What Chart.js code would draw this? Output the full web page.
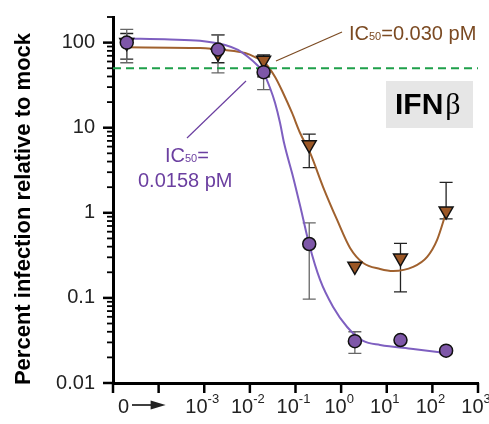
<!DOCTYPE html>
<html>
<head>
<meta charset="utf-8">
<script src="https://cdn.jsdelivr.net/npm/chart.js@4.4.1/dist/chart.umd.min.js"></script>
<style>
  html, body { margin: 0; padding: 0; background: #fff; }
  #wrap { width: 489px; height: 424px; }
</style>
</head>
<body>
<div id="wrap"><canvas id="chart" width="489" height="424"></canvas></div>
<script>
// Dose (pM). The mock ("0") dose is parked at 2e-5 on the log axis.
const doses = [0.00002, 0.002, 0.02, 0.2, 2, 20, 200];

// purple series (circles)
const purpleMean = [100, 83, 45, 0.43, 0.031, 0.032, 0.024];
const purpleLow  = [58, 44, 28, 0.097, 0.0223, null, null];
const purpleHigh = [143, 123, 66, 0.76, 0.040, null, null];

// brown series (down triangles)
const brownMean = [100, 75, 62, 6.3, 0.235, 0.294, 1.05];
const brownLow  = [64, 58, 39.5, 3.4, null, 0.118, 0.85];
const brownHigh = [128, 123, 71.5, 8.4, null, 0.438, 2.28];

// fitted curves
const purpleCurveX = [0.0000193, 0.000178, 0.00081, 0.00286, 0.0055, 0.00913, 0.0144, 0.0195, 0.0277, 0.0357, 0.0459, 0.0562, 0.0885, 0.1327, 0.1986, 0.346, 0.668, 1.355, 3.04, 7.16, 37.9, 201];
const purpleCurveY = [111.7, 109, 105, 93.7, 81.9, 67.7, 54.6, 45.2, 29.3, 19.5, 11.35, 6.6, 2.64, 1.08, 0.43, 0.1625, 0.0782, 0.0455, 0.0312, 0.028, 0.0251, 0.0225];
const brownCurveX = [0.0000193, 0.00081, 0.00286, 0.00785, 0.013, 0.0215, 0.0357, 0.0535, 0.0841, 0.126, 0.209, 0.403, 0.817, 1.57, 3.04, 7.16, 13.8, 37.9, 76.9, 127, 201];
const brownCurveY = [88.1, 86.4, 81.9, 75.5, 67.7, 57.6, 39.4, 25.6, 14.9, 8.67, 5.05, 2.01, 0.824, 0.386, 0.257, 0.219, 0.207, 0.231, 0.303, 0.48, 1.02];

// 50% reference line
const halfLevel = 50;

// axes
const xMin = 0.00001, xMax = 1000;
const yMin = 0.01, yMax = 200;
const xTickValues = [0.00001, 0.0001, 0.001, 0.01, 0.1, 1, 10, 100, 1000];
const xLabelExps = ['-3', '-2', '-1', '0', '1', '2', '3'];
const yMajorTicks = [0.01, 0.1, 1, 10, 100];
const yTickLabels = ['0.01', '0.1', '1', '10', '100'];

const FONT = '"Liberation Sans", Arial, Helvetica, sans-serif';
const PURPLE_FILL = '#7e57a8';
const PURPLE_LINE = '#7e5fc0';
const PURPLE_TEXT = '#6b3fa0';
const BROWN_FILL = '#9b5726';
const BROWN_LINE = '#a0612e';
const BROWN_TEXT = '#7b4a22';

// minor ticks 2..9 for each decade, up to the axis max
const yMinorTicks = [];
yMajorTicks.forEach(d => {
  for (let k = 2; k <= 9; k++) {
    if (k * d <= yMax * 1.0001) yMinorTicks.push(k * d);
  }
});

const pts = (xs, ys) => xs.map((x, i) => ({ x: x, y: ys[i] }));

const errorBars = {
  id: 'errorBars',
  beforeDatasetsDraw(chart) {
    const { ctx, scales: { x, y } } = chart;
    const sets = [
      { lo: brownLow, hi: brownHigh, color: '#222' },
      { lo: purpleLow, hi: purpleHigh, color: '#666' },
    ];
    ctx.save();
    ctx.lineWidth = 1.3;
    sets.forEach(s => {
      ctx.strokeStyle = s.color;
      doses.forEach((d, i) => {
        if (s.lo[i] == null) return;
        const px = x.getPixelForValue(d);
        const yl = y.getPixelForValue(s.lo[i]);
        const yh = y.getPixelForValue(s.hi[i]);
        ctx.beginPath();
        ctx.moveTo(px, yl); ctx.lineTo(px, yh);
        ctx.moveTo(px - 6.5, yl); ctx.lineTo(px + 6.5, yl);
        ctx.moveTo(px - 6.5, yh); ctx.lineTo(px + 6.5, yh);
        ctx.stroke();
      });
    });
    ctx.restore();
  }
};

// tick marks, x labels, axis title and the annotations
const decorations = {
  id: 'decorations',
  afterDraw(chart) {
    const { ctx, chartArea: area, scales: { x, y } } = chart;
    ctx.save();
    ctx.strokeStyle = '#000';

    // y ticks
    ctx.lineWidth = 2.5;
    yMajorTicks.forEach(v => {
      const py = y.getPixelForValue(v);
      ctx.beginPath(); ctx.moveTo(area.left - 10, py); ctx.lineTo(area.left, py); ctx.stroke();
    });
    ctx.lineWidth = 1.8;
    yMinorTicks.forEach(v => {
      const py = y.getPixelForValue(v);
      ctx.beginPath(); ctx.moveTo(area.left - 6, py); ctx.lineTo(area.left, py); ctx.stroke();
    });

    // x ticks
    ctx.lineWidth = 2.5;
    xTickValues.forEach(v => {
      const px = x.getPixelForValue(v);
      ctx.beginPath(); ctx.moveTo(px, area.bottom); ctx.lineTo(px, area.bottom + 10); ctx.stroke();
    });

    // x labels: 0 -> 10^-3 ... 10^3
    ctx.fillStyle = '#222';
    ctx.textBaseline = 'alphabetic';
    ctx.textAlign = 'left';
    const base = 412.5;
    const p0 = x.getPixelForValue(xTickValues[0]);
    const p1 = x.getPixelForValue(xTickValues[1]);
    ctx.font = '20px ' + FONT;
    ctx.fillText('0', p0 + 5, base);
    ctx.lineWidth = 1.5;
    ctx.beginPath(); ctx.moveTo(p0 + 19, 405); ctx.lineTo(p1 - 4, 405); ctx.stroke();
    ctx.beginPath();
    ctx.moveTo(p1 + 7, 405); ctx.lineTo(p1 - 8, 400.5); ctx.lineTo(p1 - 8, 409.5); ctx.closePath();
    ctx.fill();

    xLabelExps.forEach((e, i) => {
      const px = x.getPixelForValue(xTickValues[i + 2]) - 2;
      ctx.font = '20px ' + FONT;
      const w1 = ctx.measureText('10').width;
      ctx.font = '13px ' + FONT;
      const w2 = ctx.measureText(e).width;
      const start = px - (w1 + w2) / 2;
      ctx.font = '20px ' + FONT;
      ctx.fillText('10', start, base);
      ctx.font = '13px ' + FONT;
      ctx.fillText(e, start + w1, 403);
    });

    // y axis title
    ctx.save();
    ctx.translate(30, 209);
    ctx.rotate(-Math.PI / 2);
    ctx.textAlign = 'center';
    ctx.fillStyle = '#000';
    ctx.font = 'bold 22px ' + FONT;
    ctx.fillText('Percent infection relative to mock', 0, 0);
    ctx.restore();

    // brown IC50 label
    ctx.textAlign = 'left';
    ctx.strokeStyle = BROWN_TEXT;
    ctx.lineWidth = 1.2;
    ctx.beginPath(); ctx.moveTo(342, 32); ctx.lineTo(276, 61); ctx.stroke();
    ctx.fillStyle = BROWN_TEXT;
    let cx = 349;
    ctx.font = '20px ' + FONT; ctx.fillText('IC', cx, 39.5); cx += ctx.measureText('IC').width;
    ctx.font = '11px ' + FONT; ctx.fillText('50', cx, 40); cx += ctx.measureText('50').width;
    ctx.font = '20px ' + FONT; ctx.fillText('=0.030 pM', cx, 39.5);

    // purple IC50 label
    ctx.strokeStyle = PURPLE_TEXT;
    ctx.beginPath(); ctx.moveTo(187, 138); ctx.lineTo(246, 81); ctx.stroke();
    ctx.fillStyle = PURPLE_TEXT;
    cx = 165;
    ctx.font = '20px ' + FONT; ctx.fillText('IC', cx, 161.5); cx += ctx.measureText('IC').width;
    ctx.font = '11px ' + FONT; ctx.fillText('50', cx, 162); cx += ctx.measureText('50').width;
    ctx.font = '20px ' + FONT; ctx.fillText('=', cx, 161.5);
    ctx.fillText('0.0158 pM', 138, 187);

    // IFNb box
    ctx.fillStyle = '#e6e6e6';
    ctx.fillRect(386, 81, 87, 47);
    ctx.fillStyle = '#000';
    ctx.font = 'bold 30px ' + FONT;
    ctx.fillText('IFN', 395, 114);
    const wI = ctx.measureText('IFN').width;
    ctx.font = '30px "Liberation Serif", "Times New Roman", serif';
    ctx.fillText('\u03B2', 395 + wI + 2, 114);

    ctx.restore();
  }
};

new Chart(document.getElementById('chart'), {
  type: 'scatter',
  data: {
    datasets: [
      {
        data: pts(doses, purpleMean),
        pointStyle: 'circle', pointRadius: 6.5,
        backgroundColor: PURPLE_FILL, borderColor: '#111', borderWidth: 1.5,
        showLine: false, order: 0
      },
      {
        data: pts(doses, brownMean),
        pointStyle: 'triangle', rotation: 180, pointRadius: 8,
        backgroundColor: BROWN_FILL, borderColor: '#111', borderWidth: 1.5,
        showLine: false, order: 1
      },
      {
        data: pts([xMin, xMax], [halfLevel, halfLevel]),
        showLine: true, borderColor: '#1ea04a', borderWidth: 2, borderDash: [8, 5],
        pointRadius: 0, order: 2
      },
      {
        data: pts(purpleCurveX, purpleCurveY),
        showLine: true, cubicInterpolationMode: 'monotone',
        borderColor: PURPLE_LINE, borderWidth: 2, pointRadius: 0, order: 3
      },
      {
        data: pts(brownCurveX, brownCurveY),
        showLine: true, cubicInterpolationMode: 'monotone',
        borderColor: BROWN_LINE, borderWidth: 2, pointRadius: 0, order: 4
      }
    ]
  },
  options: {
    responsive: false,
    animation: false,
    devicePixelRatio: 1,
    events: [],
    layout: { padding: { left: 0, right: 11, top: 17, bottom: 0 } },
    plugins: { legend: { display: false }, tooltip: { enabled: false } },
    scales: {
      x: {
        type: 'logarithmic', min: xMin, max: xMax,
        grid: { display: false, drawTicks: false },
        border: { display: true, color: '#000', width: 3 },
        ticks: { display: false },
        afterFit: s => { s.height = 41; s.paddingLeft = 0; s.paddingRight = 0; }
      },
      y: {
        type: 'logarithmic', min: yMin, max: yMax,
        grid: { display: false, drawTicks: false },
        border: { display: true, color: '#000', width: 3 },
        afterBuildTicks: s => { s.ticks = yMajorTicks.map(v => ({ value: v })); },
        afterFit: s => { s.width = 113; s.paddingTop = 0; s.paddingBottom = 0; },
        ticks: {
          autoSkip: false, padding: 18, color: '#222',
          font: { family: FONT, size: 20 },
          callback: v => yTickLabels[yMajorTicks.indexOf(v)]
        }
      }
    }
  },
  plugins: [errorBars, decorations]
});
</script>
</body>
</html>
